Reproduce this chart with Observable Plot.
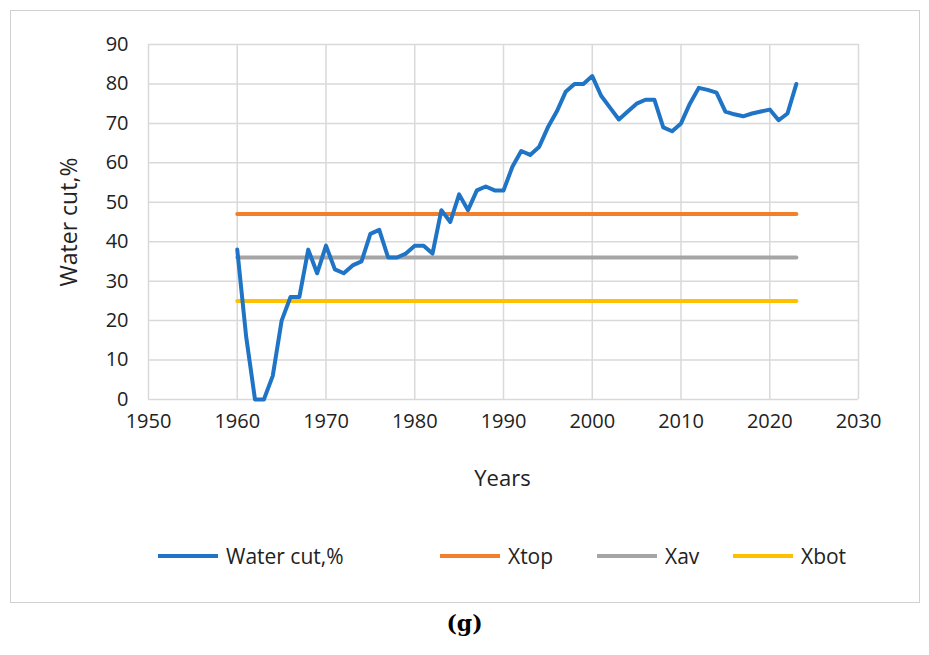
<!DOCTYPE html>
<html><head><meta charset="utf-8">
<script src="https://cdn.jsdelivr.net/npm/d3@7"></script>
<script src="https://cdn.jsdelivr.net/npm/@observablehq/plot@0.6"></script>
<style>
body{margin:0;background:#fff;font-family:"Open Sans",sans-serif;}
#frame{position:absolute;left:10px;top:10px;width:908px;height:591px;border:1px solid #d0d0d0;}
#chart{position:absolute;left:0;top:0;}
#yl{position:absolute;left:68px;top:222px;transform:translate(-50%,-50%) rotate(-90deg);font-size:23px;color:#222;white-space:nowrap;}
#xl{position:absolute;left:0;width:1005px;top:462px;text-align:center;font-size:22px;color:#222;}
#legend{position:absolute;top:542px;left:158px;font-size:21px;color:#222;}
.it{position:absolute;display:flex;align-items:center;white-space:nowrap;}
.sw{width:60px;height:4px;margin-right:8px;}
#cap{position:absolute;top:610px;width:929px;text-align:center;font-family:"DejaVu Serif",serif;font-weight:bold;font-size:22px;}
</style></head><body>
<div id="frame"></div>
<div id="chart"></div>
<div id="yl">Water cut,%</div>
<div id="xl">Years</div>
<div id="legend"></div>
<div id="cap">(g)</div>
<script>
const years = d3.range(1960, 2024);
const waterCut = [38,16,0,0,6,20,26,26,38,32,39,33,32,34,35,42,43,36,36,37,39,39,37,48,45,52,48,53,54,53,53,59,63,62,64,69,73,78,80,80,82,77,74,71,73,75,76,76,69,68,70,75,79,78.5,77.8,73,72.3,71.8,72.5,73,73.5,70.8,72.5,80];
const xtop = 47, xav = 36, xbot = 25;
const seriesNames = ["Water cut,%","Xtop","Xav","Xbot"];
const colors = ["#1f74c6","#f47f2a","#a5a5a5","#ffc000"];
const legendX = [0, 282, 439, 575];
const data = years.map((y,i)=>({year:y, v:waterCut[i]}));
const flat = (val)=>[{year:1960,v:val},{year:2023,v:val}];
const chart = Plot.plot({
  width:929, height:445,
  marginLeft:148, marginRight:71, marginTop:44, marginBottom:46,
  style:{fontFamily:"Open Sans, sans-serif", fontSize:"20px", color:"#222"},
  x:{domain:[1950,2030], ticks:d3.range(1950,2031,10), tickFormat:d=>String(d), tickSize:0, tickPadding:14, label:null},
  y:{domain:[0,90], ticks:d3.range(0,91,10), tickSize:0, tickPadding:20, label:null},
  marks:[
    Plot.gridX(d3.range(1950,2031,10),{stroke:"#d9d9d9",strokeOpacity:1,strokeWidth:1.5}),
    Plot.gridY(d3.range(0,91,10),{stroke:"#d9d9d9",strokeOpacity:1,strokeWidth:1.5}),
    Plot.line(flat(xtop),{x:"year",y:"v",stroke:colors[1],strokeWidth:4}),
    Plot.line(flat(xav),{x:"year",y:"v",stroke:colors[2],strokeWidth:4}),
    Plot.line(flat(xbot),{x:"year",y:"v",stroke:colors[3],strokeWidth:4}),
    Plot.line(data,{x:"year",y:"v",stroke:colors[0],strokeWidth:4})
  ]
});
document.getElementById("chart").appendChild(chart);
const lg = document.getElementById("legend");
seriesNames.forEach((n,i)=>{
  const d=document.createElement("div");d.className="it";d.style.left=legendX[i]+"px";
  d.innerHTML=`<span class="sw" style="background:${colors[i]}"></span>${n}`;
  lg.appendChild(d);
});
</script></body></html>
